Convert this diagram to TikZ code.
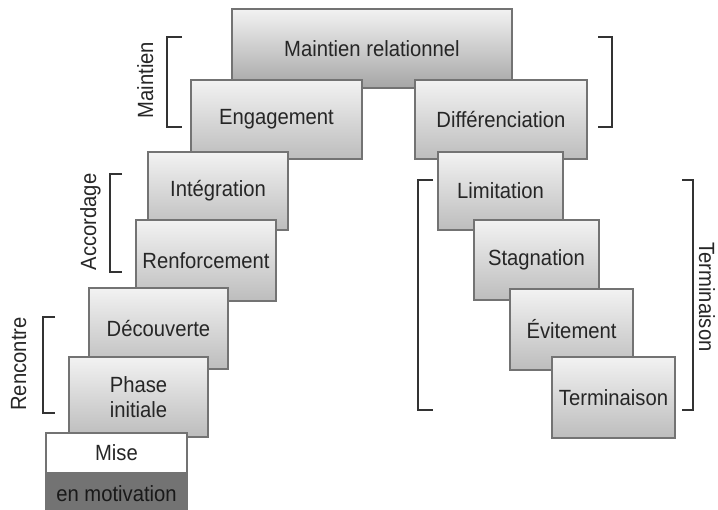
\documentclass[tikz,border=0pt]{standalone}
\usepackage{fontspec}
\setmainfont{Liberation Sans}[FakeStretch=0.92]
\usepackage{tikz}
\usetikzlibrary{positioning}

\tikzset{
	stagebox/.style={draw=black!55, line width=1.3pt, top color=gray!10, bottom color=gray!52, text=black!85, inner sep=0pt, minimum height=79pt, align=center},
	bracket/.style={draw=black!80, line width=2.2pt},
	phaselabel/.style={text=black!85, inner sep=0pt, anchor=base}
}

\begin{document}
\begin{tikzpicture}[x=1pt, y=-1pt, font=\fontsize{22}{25}\selectfont]
	\useasboundingbox (0,0) rectangle (718,510);

	\node[stagebox] (maint) [minimum width=280pt, bottom color=gray!70] at (372,48.5) {Maintien relationnel};
	\node[stagebox] (engag) [minimum width=171pt] at (276.5,119.5) {Engagement};
	\node[stagebox] (diff) [minimum width=172pt] at (501,119.5) {Différenciation};

	\node[stagebox] (integ) [minimum width=140pt, minimum height=78pt] at (218,191) {Intégration};
	\node[stagebox] (renf) [minimum width=140pt, minimum height=81pt] at (206,260.5) {Renforcement};
	\node[stagebox] (decouv) [minimum width=139pt, minimum height=81pt] at (158.5,328.5) {Découverte};
	\node[stagebox] (phase) [minimum width=139pt, minimum height=80pt] at (138.5,397) {Phase\\initiale};

	\node[draw=black!55, line width=1.3pt, fill=white, text=black!85, inner sep=0pt] (mise) [minimum width=141pt, minimum height=40pt] at (116.5,453) {Mise};
	\node[draw=black!55, line width=1.3pt, fill=black!55, text=black!90, inner sep=0pt] (motiv) [below=0pt of mise, minimum width=141pt, minimum height=38pt] {en motivation};

	\node[stagebox] (limit) [minimum width=125pt, minimum height=78pt] at (500.5,191) {Limitation};
	\node[stagebox] (stag) [minimum width=125pt, minimum height=80pt] at (536.5,260) {Stagnation};
	\node[stagebox] (evit) [minimum width=123pt, minimum height=81pt] at (571.5,329.5) {Évitement};
	\node[stagebox] (termi) [minimum width=123pt, minimum height=81pt] at (613.5,397.5) {Terminaison};

	\path[bracket] (182,37) -- (167,37) -- (167,127) -- (182,127);
	\path[bracket] (598,37) -- (612,37) -- (612,127) -- (598,127);
	\path[bracket] (122,174) -- (110,174) -- (110,272) -- (122,272);
	\path[bracket] (55,317) -- (43,317) -- (43,413) -- (55,413);
	\path[bracket] (433,180) -- (418,180) -- (418,410) -- (433,410);
	\path[bracket] (682,180) -- (693,180) -- (693,410) -- (682,410);

	\node[phaselabel, rotate=90] (lmaint) at (153,80) {Maintien};
	\node[phaselabel, rotate=90] (laccord) at (96,222) {Accordage};
	\node[phaselabel, rotate=90] (lrencon) at (26,364) {Rencontre};
	\node[phaselabel, rotate=-90] (ltermi) at (699,297) {Terminaison};

\end{tikzpicture}
\end{document}
